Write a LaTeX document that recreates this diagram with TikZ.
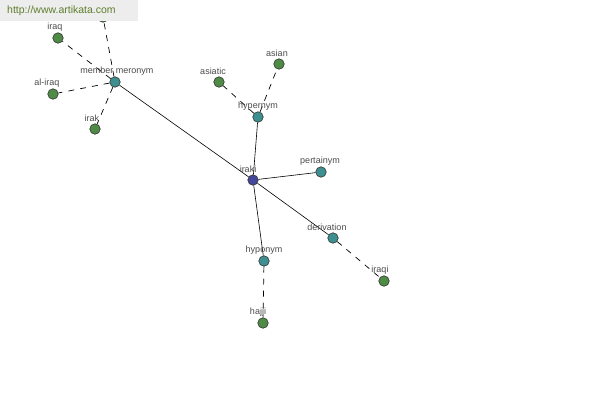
\documentclass[tikz,border=0pt]{standalone}
\usepackage{fontspec}
\setmainfont{Liberation Sans}
\begin{document}
\begin{tikzpicture}[x=1pt,y=-1pt,
  dot/.style={circle,draw=black!80,line width=0.6pt,minimum size=10.5pt,inner sep=0pt},
  leaf/.style={dot,fill=leafc},
  rel/.style={dot,fill=relc},
  hub/.style={dot,fill=hubc},
  lab/.style={font=\fontsize{9}{10}\selectfont,text=black!70,inner sep=0pt},
  solidedge/.style={draw=black,line width=0.6pt},
  dashededge/.style={draw=black,line width=0.7pt,dash pattern=on 6pt off 6pt}]
\definecolor{leafc}{HTML}{4E8C45}
\definecolor{relc}{HTML}{3E9090}
\definecolor{hubc}{HTML}{45479A}
\useasboundingbox (0,0) rectangle (600,400);
\fill[white] (0,0) rectangle (600,400);
% nodes
\node[leaf] (top) at (103,17) {};
\node[leaf] (iraq) at (58,38) {};
\node[rel] (mm) at (115,82) {};
\node[leaf] (aliraq) at (53,94) {};
\node[leaf] (irak) at (95,129) {};
\node[leaf] (asiatic) at (219,82) {};
\node[leaf] (asian) at (279,64) {};
\node[rel] (hyper) at (258,117) {};
\node[hub] (iraki) at (253,180) {};
\node[rel] (pert) at (321,172) {};
\node[rel] (deriv) at (333,238) {};
\node[rel] (hypo) at (264,261) {};
\node[leaf] (hajji) at (263,323) {};
\node[leaf] (iraqi) at (384,281) {};
% edges
\path[dashededge] (mm) -- (top);
\path[dashededge] (mm) -- (iraq);
\path[dashededge] (mm) -- (aliraq);
\path[dashededge] (mm) -- (irak);
\path[dashededge] (hyper) -- (asiatic);
\path[dashededge] (hyper) -- (asian);
\path[dashededge] (deriv) -- (iraqi);
\path[dashededge] (hypo) -- (hajji);
\path[solidedge] (iraki) -- (mm);
\path[solidedge] (iraki) -- (hyper);
\path[solidedge] (iraki) -- (pert);
\path[solidedge] (iraki) -- (deriv);
\path[solidedge] (iraki) -- (hypo);
% labels
\node[lab] (l1) at (55,27) {iraq};
\node[lab] (l2) at (117,71) {member meronym};
\node[lab] (l3) at (47,83) {al-iraq};
\node[lab] (l4) at (92,118) {irak};
\node[lab] (l5) at (213,71) {asiatic};
\node[lab] (l6) at (277,53) {asian};
\node[lab] (l7) at (258,106) {hypernym};
\node[lab] (l8) at (248,169) {iraki};
\node[lab] (l9) at (320,161) {pertainym};
\node[lab] (l10) at (327,227) {derivation};
\node[lab] (l11) at (264,250) {hyponym};
\node[lab] (l12) at (258,312) {hajji};
\node[lab] (l13) at (380,270) {iraqi};
% watermark
\fill[black!7] (0,0) rectangle (138,21);
\node[font=\fontsize{10.5}{11}\selectfont,text={rgb,255:red,95;green,125;blue,45},anchor=west,inner sep=0pt] (wm) at (7,11) {http://www.artikata.com};
\end{tikzpicture}
\end{document}
